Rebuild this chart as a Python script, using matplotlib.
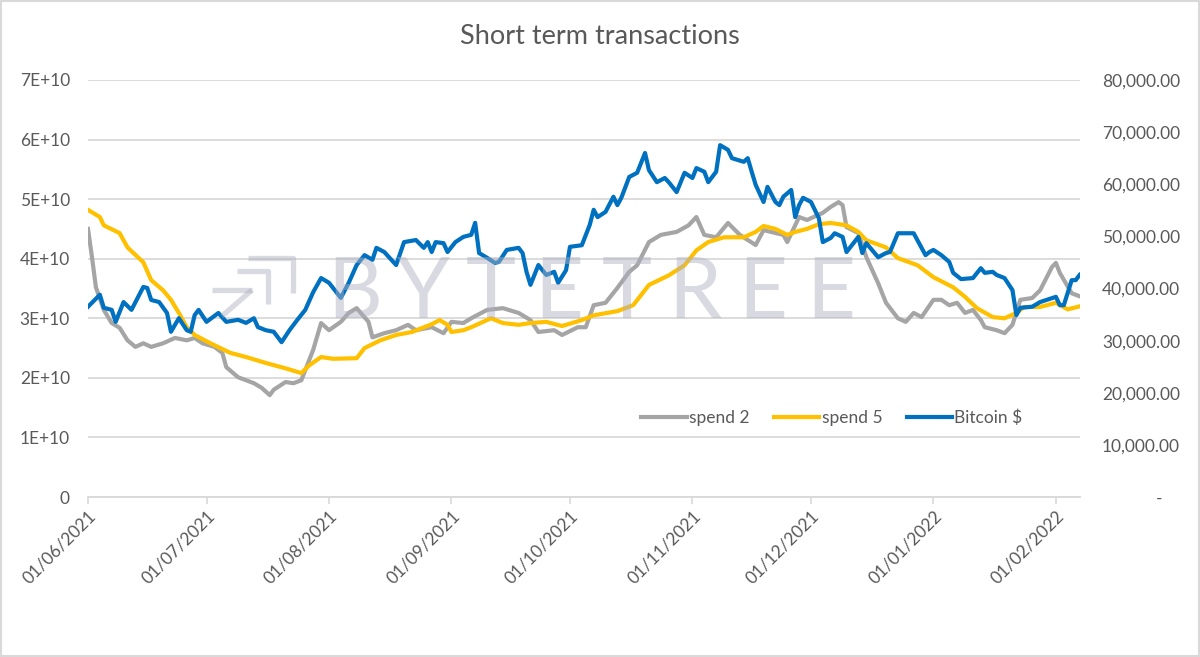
import numpy as np
import pandas as pd
import matplotlib
matplotlib.use("Agg")
import matplotlib.pyplot as plt
import matplotlib.dates as mdates
from matplotlib.lines import Line2D
from matplotlib.patches import Rectangle

plt.rcParams['font.family'] = ['Lato', 'DejaVu Sans']

# ---------------- data (days since 01/06/2021) ----------------
start_date = pd.Timestamp('2021-06-01')

spend2_day = [0, 1, 2, 4, 6, 8, 10, 12, 14, 16, 19, 22, 25, 27, 29, 32, 34, 35, 38, 42, 44, 46, 47, 50, 52, 54,
              57, 59, 61, 64, 66, 68, 71, 72, 75, 78, 81, 83, 87, 90, 92, 95, 97, 101, 105, 109, 112, 114, 118,
              120, 124, 126, 128, 131, 134, 137, 139, 142, 145, 149, 152, 154, 156, 159, 162, 165, 169, 171, 176,
              177, 180, 182, 186, 188, 190, 191, 192, 195, 197, 200, 202, 205, 207, 209, 211, 214, 216, 218, 220,
              222, 224, 226, 227, 230, 232, 234, 236, 239, 241, 244, 245, 246, 249, 251]
spend2_e10 = [4.50, 4.03, 3.52, 3.14, 2.92, 2.84, 2.63, 2.52, 2.58, 2.52, 2.58, 2.67, 2.63, 2.67, 2.58, 2.52, 2.42,
              2.18, 2.01, 1.91, 1.83, 1.71, 1.80, 1.93, 1.91, 1.96, 2.47, 2.92, 2.80, 2.94, 3.09, 3.17, 2.94, 2.68,
              2.75, 2.80, 2.89, 2.80, 2.85, 2.75, 2.94, 2.92, 3.00, 3.14, 3.17, 3.09, 2.97, 2.77, 2.80, 2.72, 2.85,
              2.85, 3.22, 3.26, 3.51, 3.78, 3.89, 4.28, 4.40, 4.45, 4.56, 4.70, 4.40, 4.36, 4.60, 4.40, 4.23, 4.48,
              4.40, 4.28, 4.70, 4.65, 4.77, 4.87, 4.95, 4.90, 4.53, 4.43, 4.03, 3.59, 3.26, 3.00, 2.94, 3.09, 3.02,
              3.31, 3.31, 3.22, 3.26, 3.09, 3.14, 2.97, 2.85, 2.80, 2.75, 2.89, 3.31, 3.34, 3.47, 3.86, 3.93, 3.76,
              3.42, 3.37]

spend5_day = [0, 3, 4, 8, 10, 14, 16, 19, 21, 23, 25, 27, 31, 36, 40, 45, 50, 54, 56, 59, 62, 68, 70, 74, 78, 82,
              87, 89, 91, 92, 95, 97, 102, 105, 109, 112, 116, 120, 125, 128, 134, 138, 142, 147, 151, 154, 157,
              161, 166, 169, 171, 174, 177, 179, 182, 185, 188, 192, 195, 197, 202, 205, 210, 214, 219, 222, 225,
              229, 232, 235, 237, 241, 245, 248, 251]
spend5_e10 = [4.82, 4.70, 4.56, 4.43, 4.19, 3.94, 3.64, 3.47, 3.31, 3.09, 2.85, 2.72, 2.58, 2.42, 2.35, 2.25, 2.16,
              2.08, 2.21, 2.35, 2.32, 2.33, 2.50, 2.63, 2.72, 2.77, 2.90, 2.97, 2.89, 2.77, 2.80, 2.85, 3.00, 2.92,
              2.89, 2.92, 2.94, 2.87, 2.97, 3.05, 3.12, 3.22, 3.56, 3.72, 3.89, 4.14, 4.28, 4.36, 4.36, 4.45, 4.55,
              4.50, 4.40, 4.45, 4.50, 4.58, 4.60, 4.56, 4.45, 4.31, 4.19, 4.01, 3.89, 3.69, 3.52, 3.36, 3.17, 3.02,
              3.00, 3.09, 3.19, 3.19, 3.26, 3.15, 3.20]

btc_day = [0, 3, 4, 6, 7, 9, 11, 14, 15, 16, 18, 20, 21, 23, 25, 26, 27, 28, 30, 33, 35, 38, 40, 42, 43, 45, 47,
           49, 51, 53, 55, 57, 59, 61, 64, 66, 68, 70, 72, 73, 75, 78, 80, 83, 85, 86, 87, 88, 90, 91, 93, 95, 97,
           98, 99, 101, 103, 104, 106, 109, 110, 111, 112, 114, 116, 118, 119, 121, 122, 125, 127, 128, 129, 131,
           133, 134, 135, 137, 139, 141, 142, 144, 146, 147, 149, 151, 153, 154, 156, 157, 159, 160, 162, 163, 166,
           167, 168, 169, 171, 172, 174, 175, 176, 178, 179, 180, 181, 183, 185, 186, 188, 189, 191, 192, 195, 196,
           197, 200, 202, 203, 205, 208, 209, 211, 212, 213, 214, 216, 218, 219, 221, 224, 226, 227, 229, 230, 232,
           234, 235, 236, 239, 241, 245, 246, 247, 249, 250, 251]
btc_k = [36.5, 38.8, 36.3, 35.9, 33.6, 37.4, 35.9, 40.3, 40.1, 37.8, 37.4, 35.3, 31.7, 34.3, 32.0, 31.7, 34.9, 35.9,
         33.6, 35.3, 33.6, 34.0, 33.4, 34.3, 32.6, 32.0, 31.7, 29.7, 32.0, 34.0, 35.9, 39.3, 42.0, 41.1, 38.2, 41.1,
         44.5, 46.4, 45.5, 47.8, 47.0, 44.5, 48.9, 49.3, 47.8, 48.9, 47.0, 48.9, 48.7, 47.0, 48.9, 49.9, 50.3, 52.6,
         46.8, 45.9, 44.9, 45.1, 47.4, 47.8, 46.8, 43.2, 40.7, 44.5, 42.6, 43.2, 41.1, 43.5, 48.0, 48.3, 52.2, 55.1,
         53.7, 54.7, 57.6, 56.0, 57.4, 61.4, 62.2, 66.0, 62.7, 60.4, 61.2, 60.4, 58.5, 62.2, 61.2, 63.1, 62.4, 60.4,
         62.4, 67.5, 66.6, 65.0, 64.3, 65.0, 62.4, 59.9, 56.6, 59.5, 56.6, 56.0, 57.6, 58.9, 53.7, 56.0, 57.4, 56.6,
         53.5, 48.9, 49.7, 50.6, 49.9, 47.0, 49.9, 46.8, 48.7, 46.0, 46.8, 47.0, 50.6, 50.6, 50.6, 47.8, 46.4, 47.0,
         47.4, 46.4, 45.1, 43.0, 41.8, 42.0, 43.9, 43.0, 43.2, 42.6, 42.0, 39.7, 34.9, 36.3, 36.5, 37.4, 38.4, 36.8,
         36.8, 41.6, 41.6, 42.6]

series_names = ['spend 2', 'spend 5', 'Bitcoin $']
left_ticklabels = ['0', '1E+10', '2E+10', '3E+10', '4E+10', '5E+10', '6E+10', '7E+10']
right_ticklabels = ['-    ', '10,000.00', '20,000.00', '30,000.00', '40,000.00', '50,000.00',
                    '60,000.00', '70,000.00', '80,000.00']


def to_dates(days):
    return start_date + pd.to_timedelta(np.asarray(days), unit='D')


# ---------------- figure ----------------
W, H = 1200, 657
fig = plt.figure(figsize=(W / 100, H / 100), dpi=100)
fig.patch.set_facecolor('white')
fig.patches.append(Rectangle((1 / W, 1 / H), 1 - 2 / W, 1 - 2 / H, transform=fig.transFigure,
                             fill=False, edgecolor='#d9d9d9', linewidth=1.5))

ax = fig.add_axes([88 / W, 1 - 497 / H, (1080 - 88) / W, (497 - 80) / H])
ax2 = ax.twinx()
ax.patch.set_alpha(0)
ax2.patch.set_alpha(0)

c_gray, c_gold, c_blue = '#a5a5a5', '#ffc000', '#0070c0'
lw = 3.0
l1, = ax.plot(to_dates(spend2_day), np.array(spend2_e10) * 1e10, color=c_gray, lw=lw, solid_joinstyle='round')
l2, = ax.plot(to_dates(spend5_day), np.array(spend5_e10) * 1e10, color=c_gold, lw=lw, solid_joinstyle='round')
l3, = ax2.plot(to_dates(btc_day), np.array(btc_k) * 1000, color=c_blue, lw=lw, solid_joinstyle='round')

ax.set_xlim(start_date, start_date + pd.Timedelta(days=251.1))
ax.set_ylim(0, 7e10)
ax2.set_ylim(0, 80000)

ax.set_yticks(np.arange(8) * 1e10)
ax.set_yticklabels(left_ticklabels)
ax2.set_yticks(np.arange(9) * 10000)
ax2.set_yticklabels(right_ticklabels, ha='right')

ax.grid(axis='y', color='#d9d9d9', linewidth=1.3)
ax.set_axisbelow(True)
for s in ['left', 'right', 'top']:
    ax.spines[s].set_visible(False)
ax.spines['bottom'].set_color('#d9d9d9')
ax.spines['bottom'].set_linewidth(1.3)
for s in ax2.spines.values():
    s.set_visible(False)

tc = '#595959'
fs = 12.5
ax.tick_params(axis='y', length=0, pad=13, labelsize=fs, labelcolor=tc)
ax2.tick_params(axis='y', length=0, pad=72, labelsize=fs, labelcolor=tc)

ax.xaxis.set_major_locator(mdates.MonthLocator())
ax.xaxis.set_major_formatter(mdates.DateFormatter('%d/%m/%Y'))
ax.tick_params(axis='x', direction='out', length=5, width=1.2, color='#d9d9d9',
               labelsize=fs, labelcolor=tc, pad=3)
plt.setp(ax.get_xticklabels(), rotation=45, ha='right', rotation_mode='anchor')

fig.text(0.5, 1 - 37 / H, 'Short term transactions', ha='center', va='center', fontsize=19.5, color=tc)

leg = fig.legend([l1, l2, l3], series_names, loc='center', bbox_to_anchor=(832 / W, 1 - 418 / H),
                 ncol=3, frameon=False, fontsize=fs, handlelength=2.6, handletextpad=0.15,
                 columnspacing=1.4, labelcolor=tc)

# ---------------- watermark ----------------
wm_col = '#aeb0c0'
wm_alpha = 0.47
for i, ch in enumerate('BYTETREE'):
    cx = 355 + i * 68
    fig.text(cx / W, 1 - 318 / H, ch, ha='center', va='baseline', fontsize=61, fontweight='normal',
             color=wm_col, alpha=wm_alpha, zorder=10)

logo_paths = [
    [(248, 258), (293, 258), (293, 293)],
    [(237, 271), (268, 271), (268, 304)],
    [(212, 290), (252, 290)],
    [(252, 290), (222, 316)],
]
for path in logo_paths:
    xs = [p[0] / W for p in path]
    ys = [1 - p[1] / H for p in path]
    fig.lines.append(Line2D(xs, ys, transform=fig.transFigure, color=wm_col, alpha=wm_alpha,
                            lw=3.8, solid_capstyle='butt', zorder=10))

fig.savefig('out.png', dpi=100)
